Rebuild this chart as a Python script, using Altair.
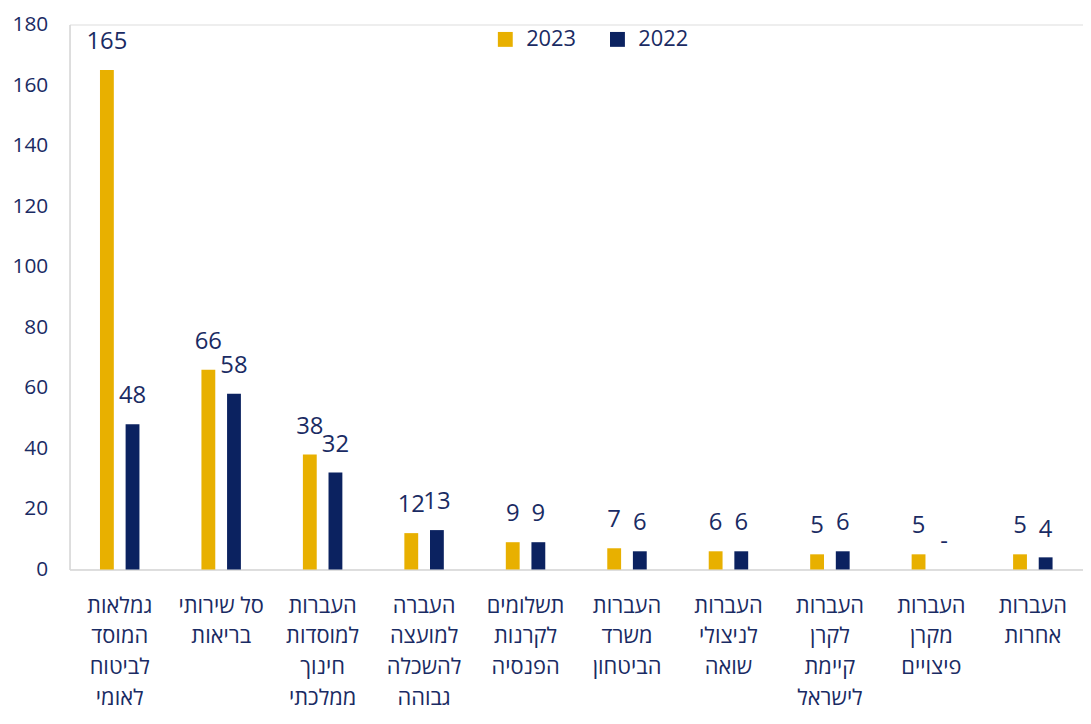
import altair as alt
import pandas as pd

categories = [
    "גמלאות|המוסד|לביטוח|לאומי",
    "סל שירותי|בריאות",
    "העברות|למוסדות|חינוך|ממלכתי",
    "העברה|למועצה|להשכלה|גבוהה",
    "תשלומים|לקרנות|הפנסיה",
    "העברות|משרד|הביטחון",
    "העברות|לניצולי|שואה",
    "העברות|לקרן|קיימת|לישראל",
    "העברות|מקרן|פיצויים",
    "העברות|אחרות",
]
values_2023 = [165, 66, 38, 12, 9, 7, 6, 5, 5, 5]
values_2022 = [48, 58, 32, 13, 9, 6, 6, 6, None, 4]
years = ["2023", "2022"]
colors = ["#E8B000", "#0B2260"]

rows = []
for c, a, b in zip(categories, values_2023, values_2022):
    rows.append({"cat": c, "year": "2023", "value": a, "label": str(a)})
    rows.append({"cat": c, "year": "2022", "value": b if b is not None else 0,
                 "label": str(b) if b is not None else "-"})
df = pd.DataFrame(rows)

FONT = "Open Sans, DejaVu Sans, sans-serif"
NAVY_TXT = "#1A2B63"

x = alt.X("cat:N", sort=categories, title=None,
          scale=alt.Scale(paddingInner=0.611, paddingOuter=0.3),
          axis=alt.Axis(labelExpr="split(datum.value, '|')", labelAngle=0,
                        labelFontSize=22, labelColor=NAVY_TXT, labelFont=FONT,
                        labelLineHeight=31, labelPadding=26, labelBaseline="top",
                        ticks=False, domainColor="#D9D9D9", domainWidth=1.5,
                        labelLimit=200))
xo = alt.XOffset("year:N", sort=years,
                 scale=alt.Scale(paddingInner=0.46, paddingOuter=0))
y = alt.Y("value:Q", title=None,
          scale=alt.Scale(domain=[0, 180], nice=False),
          axis=alt.Axis(values=list(range(0, 181, 20)), grid=False, ticks=False,
                        labelFontSize=21, labelColor=NAVY_TXT, labelFont=FONT,
                        labelPadding=22, domainColor="#D9D9D9", domainWidth=1.5))

bars = alt.Chart(df).mark_bar().encode(
    x=x, xOffset=xo, y=y,
    color=alt.Color("year:N", sort=years,
                    scale=alt.Scale(domain=years, range=colors),
                    legend=alt.Legend(title=None, orient="none", legendX=428, legendY=4,
                                      direction="horizontal", symbolType="square",
                                      symbolSize=225, symbolStrokeWidth=0,
                                      labelFontSize=22, labelColor=NAVY_TXT,
                                      labelFont=FONT, labelOffset=10,
                                      columnPadding=30, padding=0)),
)

text = alt.Chart(df).mark_text(baseline="bottom", dy=-16, fontSize=24,
                               color=NAVY_TXT, font=FONT).encode(
    x=x, xOffset=xo, y=y, text="label:N"
)

chart = (bars + text).properties(
    width=1021, height=549,
    padding={"left": 62, "top": 14, "right": 0, "bottom": 145},
    autosize=alt.AutoSizeParams(type="none"),
).configure_view(stroke=None).configure(background="white")

chart.save("out.html", embed_options={"renderer": "svg", "actions": False})
